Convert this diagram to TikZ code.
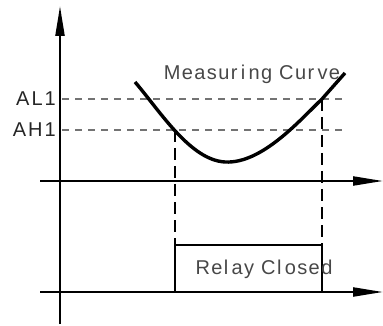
\documentclass[tikz,border=0pt]{standalone}
\usepackage{fontspec}
\setmainfont{Liberation Sans}
\usetikzlibrary{arrows.meta}
\begin{document}
\begin{tikzpicture}[x=1pt,y=-1pt,
  axis/.style={line width=2.2pt,-{Triangle[length=30pt,width=9pt]}},
  guide/.style={black!55,line width=1.8pt,dash pattern=on 7pt off 6pt},
  drop/.style={black,line width=2.6pt,dash pattern=on 12pt off 6pt},
  relay/.style={line width=2.2pt},
  lbl/.style={font=\fontsize{20}{20}\selectfont\addfontfeatures{LetterSpace=10},inner sep=0pt,text=black!85},
  txt/.style={font=\fontsize{20}{20}\selectfont\addfontfeatures{LetterSpace=7},inner sep=0pt,text=black!72}]
\useasboundingbox (0,0) rectangle (383,326);
% axes
\coordinate (vb) at (60,324);
\coordinate (vt) at (60,6);
\coordinate (h1a) at (40,181);
\coordinate (h1b) at (383,181);
\coordinate (h2a) at (40,292);
\coordinate (h2b) at (383,292);
\draw[axis] (vb) -- (vt);
\draw[axis] (h1a) -- (h1b);
\draw[axis] (h2a) -- (h2b);
% thresholds
\node[lbl,anchor=east] (al) at (56,99) {AL1};
\node[lbl,anchor=east] (ah) at (56,130) {AH1};
\coordinate (ale) at (348,99);
\coordinate (ahe) at (348,130);
\draw[guide] (62,99) -- (ale);
\draw[guide] (62,130) -- (ahe);
% curve
\coordinate (c0) at (135,82);
\coordinate (p1) at (175,130);
\coordinate (cm) at (225,162);
\coordinate (p2) at (322,99);
\coordinate (c1) at (345,73);
\draw[line width=3.4pt] (c0) .. controls (160,111) and (190,160) .. (cm)
  .. controls (262,164) and (300,120) .. (p2) -- (c1);
% drops
\coordinate (q1) at (175,245);
\coordinate (q2) at (322,245);
\coordinate (r1) at (175,292);
\coordinate (r2) at (322,292);
\draw[drop] (p1) -- (q1);
\draw[drop] (p2) -- (q2);
\draw[relay] (r1) -- (q1) -- (q2) -- (r2);
% texts
\node[txt] (mc) at (252,74) {Measur\,i\,ng Cur\,ve};
\node[txt] (rc) at (264,269) {Rel\,ay Cl\,osed};
\end{tikzpicture}
\end{document}
